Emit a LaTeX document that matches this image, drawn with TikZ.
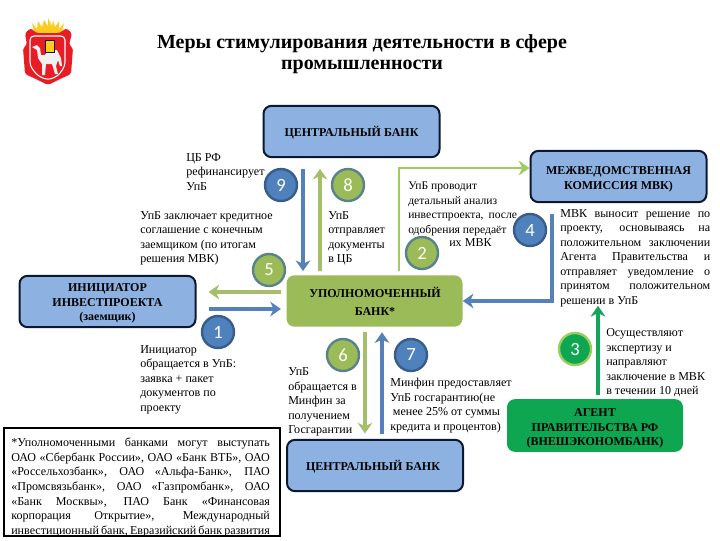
\documentclass[tikz,border=0pt]{standalone}
\usepackage{fontspec}
\setmainfont{Liberation Serif}
\newfontfamily\numfont{Carlito}
\usepackage{xcolor}
\usetikzlibrary{arrows.meta, calc}
\definecolor{boxblue}{RGB}{141, 178, 226}
\definecolor{boxline}{RGB}{12, 24, 48}
\definecolor{bankgreen}{RGB}{155, 187, 89}
\definecolor{agentgreen}{RGB}{14, 166, 80}
\definecolor{stepblue}{RGB}{79, 129, 189}
\definecolor{stepline}{RGB}{56, 93, 138}
\definecolor{stepgrey}{RGB}{90, 130, 140}
\definecolor{arrowblue}{RGB}{84, 130, 184}
\definecolor{arrowolive}{RGB}{165, 190, 105}
\definecolor{arrowlime}{RGB}{155, 205, 95}
\definecolor{arrowgreen}{RGB}{20, 165, 90}
\definecolor{crestred}{RGB}{232, 28, 36}
\definecolor{crestgold}{RGB}{252, 204, 30}
\tikzset{
    mainbox/.style={rounded corners=6pt, minimum width=132pt, minimum height=38.5pt, inner sep=0pt},
    bluebox/.style={mainbox, fill=boxblue, draw=boxline, line width=1.5pt},
    boxtext/.style={inner sep=0pt, align=center, font=\fontsize{9}{11}\selectfont\bfseries},
    lbl/.style={anchor=north west, inner sep=0pt, align=left, font=\fontsize{9.05}{10.9}\selectfont},
    just/.style={lbl, align=justify},
    stepnum/.style={circle, minimum size=24pt, inner sep=0pt, text=white, font=\fontsize{14}{14}\selectfont\numfont, line width=1.8pt},
    stepb/.style={stepnum, fill=stepblue, draw=stepline},
    stepg/.style={stepnum, fill=bankgreen, draw=stepgrey},
    flow/.style={line width=2.3pt, -{Stealth[length=8pt, width=11pt, inset=2.5pt]}},
}
\begin{document}
\begin{tikzpicture}[x=0.75pt, y=-0.75pt]
    \useasboundingbox (0, 0) rectangle (720, 540);

    % Crest
    \fill[crestgold] (32, 23) -- (37, 29) -- (38, 21) -- (42, 27) -- (44, 20) -- (48, 26) -- (48, 18) -- (52, 26) -- (53, 20) -- (55, 27) -- (59, 21) -- (59, 29) -- (64, 23) -- (61, 36) -- (35, 36) -- cycle;
    \fill[crestred, rounded corners=2pt] (25, 33) -- (31, 28) -- (36, 33) -- (60, 33) -- (66, 28) -- (72, 33) -- (69, 45) -- (73, 48) -- (71, 74) -- (58, 80) -- (48, 85) -- (38, 80) -- (25, 74) -- (23, 48) -- (27, 45) -- cycle;
    \draw[white, line width=0.8pt, rounded corners=3pt] (30, 36) -- (65, 36) -- (65, 66) -- (58, 76) -- (48, 80) -- (38, 76) -- (30, 66) -- cycle;
    \fill[white!94!black] (32, 47) -- (37, 45) -- (40, 48) -- (41, 55) -- (45, 55) -- (48, 50) -- (57, 50) -- (61, 58) -- (62, 66) -- (60, 66) -- (58, 60) -- (56, 66) -- (58, 74) -- (55, 74) -- (52, 64) -- (46, 64) -- (45, 75) -- (42, 75) -- (42, 64) -- (38, 58) -- (37, 50) -- cycle;
    \fill[crestgold] (45, 40) rectangle (54, 52);
    \draw[boxline, line width=0.3pt] (45, 40) rectangle (54, 52);

    % Title
    \node[inner sep=0pt, align=center, font=\fontsize{15}{15.8}\selectfont\bfseries] (title) at (362, 54) {Меры стимулирования деятельности в сфере\\промышленности};

    % Boxes
    \node[bluebox] (cbtop) at (351.5, 131.5) {};
    \node[boxtext] (cbtoptext) at (351.5, 133) {ЦЕНТРАЛЬНЫЙ БАНК};
    \node[bluebox] (mvk) at (618.5, 176.5) {};
    \node[boxtext] (mvktext) at (618.5, 179.5) {МЕЖВЕДОМСТВЕННАЯ\\КОМИССИЯ МВК)};
    \node[bluebox] (init) at (107.5, 301.5) {};
    \node[boxtext] (inittext) at (107.5, 303.5) {ИНИЦИАТОР\\ИНВЕСТПРОЕКТА\\(заемщик)};
    \node[mainbox, fill=bankgreen] (ubank) at (374.5, 301) {};
    \node[boxtext, font=\fontsize{9}{13}\selectfont\bfseries] (ubanktext) at (375, 301.5) {УПОЛНОМОЧЕННЫЙ\\БАНК*};
    \node[bluebox] (cbbot) at (375, 465.5) {};
    \node[boxtext] (cbbottext) at (373, 466.5) {ЦЕНТРАЛЬНЫЙ БАНК};
    \node[mainbox, fill=agentgreen, minimum height=39.5pt] (agent) at (595, 425.5) {};
    \node[boxtext] (agenttext) at (595, 428.5) {АГЕНТ\\ПРАВИТЕЛЬСТВА РФ\\(ВНЕШЭКОНОМБАНК)};

    % Arrows
    \coordinate (xnine) at (303, 0);
    \coordinate (xeight) at (320, 0);
    \coordinate (xsix) at (365, 0);
    \coordinate (xseven) at (382, 0);
    \coordinate (xtwo) at (399, 0);
    \coordinate (yfive) at (0, 292);
    \coordinate (yone) at (0, 309);
    \coordinate (xfour) at (552, 0);
    \coordinate (yfour) at (0, 301);
    \coordinate (ytwo) at (0, 168);
    \coordinate (xthree) at (598, 0);
    \draw[flow, arrowblue, shorten <=8pt, shorten >=3pt] (cbtop.south -| xnine) -- (ubank.north -| xnine);
    \draw[flow, arrowolive, shorten <=3pt, shorten >=8pt] (ubank.north -| xeight) -- (cbtop.south -| xeight);
    \draw[flow, arrowolive, shorten <=4pt, shorten >=9pt] (ubank.west |- yfive) -- (init.east |- yfive);
    \draw[flow, arrowblue, shorten <=9pt, shorten >=4pt] (init.east |- yone) -- (ubank.west |- yone);
    \draw[flow, arrowlime, line width=1.8pt, shorten <=3pt] (ubank.north -| xtwo) -- (xtwo |- ytwo) -- (mvk.west |- ytwo);
    \draw[flow, arrowblue, shorten <=8pt, shorten >=0pt] (mvk.south -| xfour) -- (xfour |- yfour) -- (ubank.east |- yfour);
    \draw[flow, arrowgreen, shorten <=3pt, shorten >=77pt] (agent.north -| xthree) -- (mvk.south -| xthree);
    \draw[flow, arrowolive, shorten <=4pt, shorten >=4pt] (ubank.south -| xsix) -- (cbbot.north -| xsix);
    \draw[flow, arrowblue, shorten <=4pt, shorten >=4pt] (cbbot.north -| xseven) -- (ubank.south -| xseven);

    % Step numbers
    \node[stepb] (stepnine) at (281, 185) {9};
    \node[stepg] (stepeight) at (348, 185) {8};
    \node[stepg] (stepfive) at (269, 270) {5};
    \node[stepb] (stepone) at (218, 332) {1};
    \node[stepg] (stepsix) at (343, 355) {6};
    \node[stepb] (stepseven) at (411, 355) {7};
    \node[stepg] (steptwo) at (422, 253) {2};
    \node[stepb] (stepfour) at (530, 230) {4};
    \node[stepnum, fill=agentgreen, draw=arrowlime] (stepthree) at (575, 349) {3};

    % Labels
    \node[lbl] (lblnine) at (186, 153) {ЦБ РФ\\рефинансирует\\УпБ};
    \node[lbl] (lblfive) at (140, 211) {УпБ заключает кредитное\\соглашение с конечным\\заемщиком (по итогам\\решения МВК)};
    \node[lbl] (lbleight) at (328, 211) {УпБ\\отправляет\\документы\\в ЦБ};
    \node[just, text width=81.5pt, font=\fontsize{8.7}{10.9}\selectfont] (lbltwo) at (408, 182) {УпБ проводит\\детальный анализ\\инвестпроекта, после\linebreak одобрения передаёт};
    \node[lbl] (lbltwob) at (449, 238) {их МВК};
    \node[just, text width=112.5pt] (lblfour) at (560, 209) {МВК выносит решение по\linebreak проекту, основываясь на\linebreak положительном заключении\linebreak Агента Правительства и\linebreak отправляет уведомление о\linebreak принятом положительном\linebreak решении в УпБ};
    \node[lbl] (lblthree) at (606, 328.5) {Осуществляют\\экспертизу и\\направляют\\заключение в МВК\\в течении 10 дней};
    \node[lbl] (lblone) at (140, 345) {Инициатор\\обращается в УпБ:\\заявка + пакет\\документов по\\проекту};
    \node[lbl] (lblsix) at (288, 367.5) {УпБ\\обращается в\\Минфин за\\получением\\Госгарантии};
    \node[lbl] (lblseven) at (390, 378) {Минфин предоставляет\\УпБ госгарантию(не\\\hspace*{2pt}менее 25\% от суммы\\кредита и процентов)};

    % Footnote
    \node[draw=black, line width=1.5pt, minimum width=207pt, minimum height=81pt, inner sep=0pt] (footbox) at (142, 482) {};
    \node[just, text width=194pt] (footnote) at (11, 438) {*Уполномоченными банками могут выступать\linebreak ОАО «Сбербанк России», ОАО «Банк ВТБ», ОАО\linebreak «Россельхозбанк», ОАО «Альфа-Банк», ПАО\linebreak «Промсвязьбанк», ОАО «Газпромбанк», ОАО\linebreak «Банк Москвы», ПАО Банк «Финансовая\linebreak корпорация Открытие», Международный\linebreak инвестиционный банк, Евразийский банк развития};
\end{tikzpicture}
\end{document}
